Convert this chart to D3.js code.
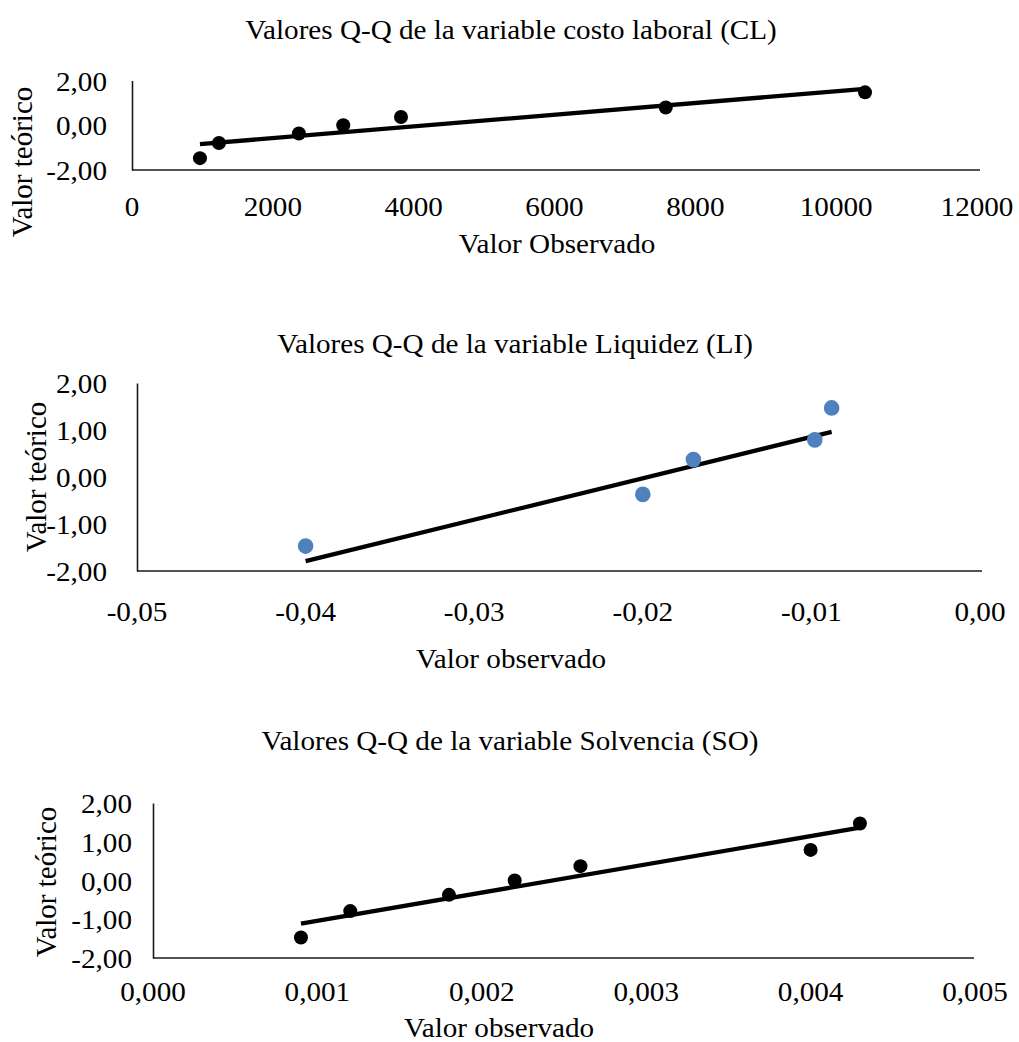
<!DOCTYPE html>
<html>
<head>
<meta charset="utf-8">
<script src="https://cdn.jsdelivr.net/npm/d3@7"></script>
<style>
  html, body { margin: 0; padding: 0; background: #fff; }
  svg { display: block; }
  text { font-family: "Liberation Serif", "Times New Roman", serif; fill: #000; }
</style>
</head>
<body>
<svg id="chart" width="1019" height="1042"></svg>
<script>
// ---------------- DATA ----------------
const theoretical7 = [-1.47, -0.79, -0.37, 0.00, 0.37, 0.79, 1.47];

// Panel 1: costo laboral (CL)
const clObs = [965, 1235, 2370, 3000, 3820, 7580, 10410];
const clTeo = theoretical7;
const clXTicks = [0, 2000, 4000, 6000, 8000, 10000, 12000];
const clYTicks = [-2, 0, 2];

// Panel 2: Liquidez (LI)
const liObs = [-0.040, -0.020, -0.017, -0.0098, -0.0088];
const liTeo = [-1.47, -0.37, 0.37, 0.79, 1.47];
const liTrendObs = [-0.040, -0.0088];
const liTrendTeo = [-1.79, 0.96];
const liXTicks = [-0.05, -0.04, -0.03, -0.02, -0.01, 0.00];
const liYTicks = [-2, -1, 0, 1, 2];

// Panel 3: Solvencia (SO)
const soObs = [0.0009, 0.0012, 0.0018, 0.0022, 0.0026, 0.0040, 0.0043];
const soTeo = theoretical7;
const soXTicks = [0, 0.001, 0.002, 0.003, 0.004, 0.005];
const soYTicks = [-2, -1, 0, 1, 2];

const titles = [
  "Valores Q-Q de la variable costo laboral (CL)",
  "Valores Q-Q de la variable Liquidez (LI)",
  "Valores Q-Q de la variable Solvencia (SO)"
];
const xLabels = ["Valor Observado", "Valor observado", "Valor observado"];
const yLabel = "Valor teórico";

// ---------------- HELPERS ----------------
const loc = d3.formatLocale({decimal: ",", thousands: ".", grouping: [3], currency: ["", ""], minus: "-"});
const fmtInt = loc.format("d");
const fmt2 = loc.format(".2f");
const fmt3 = loc.format(".3f");

function regression(xs, ys) {
  const mx = d3.mean(xs), my = d3.mean(ys);
  let sxy = 0, sxx = 0;
  xs.forEach((x, i) => { sxy += (x - mx) * (ys[i] - my); sxx += (x - mx) * (x - mx); });
  const b = sxy / sxx, a = my - b * mx;
  const x0 = d3.min(xs), x1 = d3.max(xs);
  return [[x0, a + b * x0], [x1, a + b * x1]];
}

const SX = 1.1;          // horizontal stretch of the reference text
const FS = 26.5;         // font size of horizontal text

const svg = d3.select("#chart");

const panels = [
  {
    obs: clObs, teo: clTeo, xTicks: clXTicks, yTicks: clYTicks, xFmt: fmtInt, yFmt: fmt2,
    trend: regression(clObs, clTeo), color: "#000", r: 7,
    xDomain: [0, 12000], xRange: [132, 977], yRange: [170, 80.5], axisEnd: 980,
    title: titles[0], titleX: 511, titleY: 39,
    xLab: xLabels[0], xLabX: 557, xLabY: 253,
    yLabX: 32, yLabY: 162, xTickY: 46, yTickX: 25
  },
  {
    obs: liObs, teo: liTeo, xTicks: liXTicks, yTicks: liYTicks, xFmt: fmt2, yFmt: fmt2,
    trend: liTrendObs.map((x, i) => [x, liTrendTeo[i]]), color: "#4F81BD", r: 7.8,
    xDomain: [-0.05, 0], xRange: [137, 980], yRange: [571, 383], axisEnd: 982,
    title: titles[1], titleX: 515, titleY: 353,
    xLab: xLabels[1], xLabX: 511, xLabY: 668,
    yLabX: 46, yLabY: 477, xTickY: 50, yTickX: 30
  },
  {
    obs: soObs, teo: soTeo, xTicks: soXTicks, yTicks: soYTicks, xFmt: fmt3, yFmt: fmt2,
    trend: regression(soObs, soTeo), color: "#000", r: 7,
    xDomain: [0, 0.005], xRange: [153, 975], yRange: [958, 803], axisEnd: 974,
    title: titles[2], titleX: 510, titleY: 750,
    xLab: xLabels[2], xLabX: 499, xLabY: 1037,
    yLabX: 56, yLabY: 882, xTickY: 43, yTickX: 21
  }
];

function hText(g, x, y, str, anchor) {
  return g.append("text")
    .attr("transform", `translate(${x},${y}) scale(${SX},1)`)
    .attr("text-anchor", anchor || "middle")
    .style("font-size", FS + "px")
    .text(str);
}

panels.forEach(p => {
  const g = svg.append("g");
  const x = d3.scaleLinear().domain(p.xDomain).range(p.xRange);
  const y = d3.scaleLinear().domain([-2, 2]).range(p.yRange);
  const x0 = p.xRange[0];

  // axis lines via d3.axis (no tick marks)
  const xAxis = d3.axisBottom(x).tickValues(p.xTicks).tickSize(0).tickSizeOuter(0).tickFormat("");
  const gx = g.append("g").attr("transform", `translate(0,${p.yRange[0]})`).call(xAxis);
  gx.select(".domain").attr("d", `M${x0},0H${p.axisEnd}`).attr("stroke", "#1a1a1a").attr("stroke-width", 1.6);

  const yAxis = d3.axisLeft(y).tickValues(p.yTicks).tickSize(0).tickSizeOuter(0).tickFormat("");
  const gy = g.append("g").attr("transform", `translate(${x0},0)`).call(yAxis);
  gy.select(".domain").attr("stroke", "#1a1a1a").attr("stroke-width", 1.6);

  // tick labels
  p.xTicks.forEach(t => hText(g, x(t), p.yRange[0] + p.xTickY, p.xFmt(t), "middle"));
  p.yTicks.forEach(t => hText(g, x0 - p.yTickX, y(t) + 10, p.yFmt(t), "end"));

  // trend line
  g.append("path")
    .datum(p.trend)
    .attr("d", d3.line().x(d => x(d[0])).y(d => y(d[1])))
    .attr("fill", "none").attr("stroke", "#000").attr("stroke-width", 4.3);

  // points
  g.selectAll("circle.pt").data(p.obs.map((o, i) => [o, p.teo[i]])).enter()
    .append("circle").attr("class", "pt")
    .attr("cx", d => x(d[0])).attr("cy", d => y(d[1])).attr("r", p.r)
    .attr("fill", p.color);

  // titles and labels
  hText(g, p.titleX, p.titleY, p.title, "middle");
  hText(g, p.xLabX, p.xLabY, p.xLab, "middle");
  g.append("text")
    .attr("transform", `translate(${p.yLabX},${p.yLabY}) rotate(-90)`)
    .attr("text-anchor", "middle")
    .style("font-size", "29px")
    .text(yLabel);
});
</script>
</body>
</html>
